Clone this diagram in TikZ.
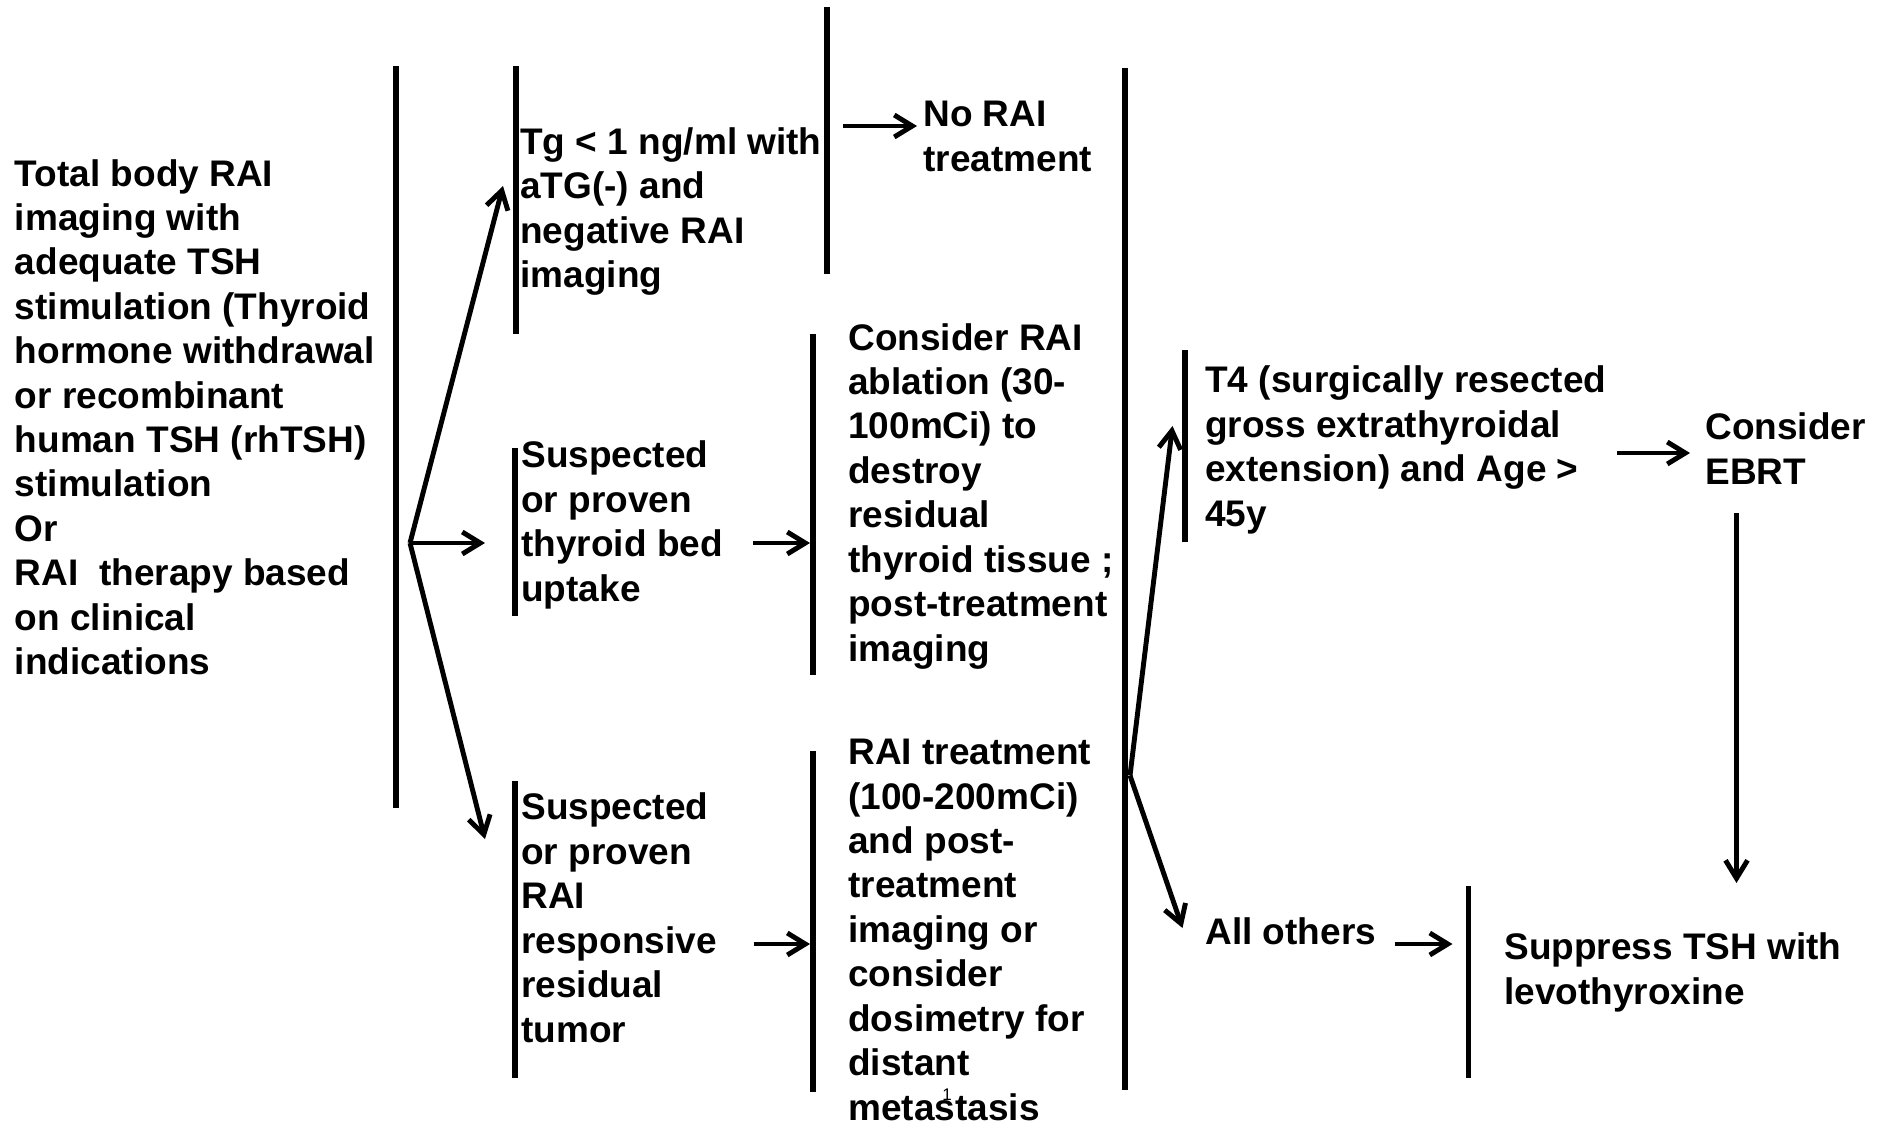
\documentclass[tikz,border=0pt]{standalone}
\usepackage{fontspec}
\setmainfont{Liberation Sans}
\usetikzlibrary{arrows.meta,positioning}
\tikzset{
    txt/.style={anchor=base west,align=left,inner sep=0pt,
        font=\fontsize{21.06}{25.27}\selectfont\bfseries},
    bar/.style={line width=3pt},
    arr/.style={-{Straight Barb[length=3.6mm,width=4.4mm]},line width=2.8pt},
    pgno/.style={anchor=base,inner sep=0pt,font=\fontsize{9.6}{11}\selectfont}
}
\begin{document}
\begin{tikzpicture}
    \useasboundingbox (0,0) rectangle (37.66,-22.48);

    % first column: imaging and the three findings (placed by last baseline)
    \node[txt] (init) at (0.29,-13.49) {Total body RAI\\imaging with\\adequate TSH\\stimulation (Thyroid\\hormone withdrawal\\or recombinant\\human TSH (rhTSH)\\stimulation\\Or\\RAI\ \ therapy based\\on clinical\\indications};
    \node[txt] (tg)    at (10.40,-5.75)  {Tg < 1 ng/ml with\\aTG(-) and\\negative RAI\\imaging};
    \node[txt] (bed)   at (10.42,-12.02) {Suspected\\or proven\\thyroid bed\\uptake};
    \node[txt] (tumor) at (10.42,-20.84) {Suspected\\or proven\\RAI\\responsive\\residual\\tumor};

    % second column: RAI decisions
    \node[txt] (norai)  at (18.46,-3.42)  {No RAI\\treatment};
    \node[txt] (ablate) at (16.96,-13.22) {Consider RAI\\ablation (30-\\100mCi) to\\destroy\\residual\\thyroid tissue ;\\post-treatment\\imaging};
    \node[txt] (raitx)  at (16.96,-22.40) {RAI treatment\\(100-200mCi)\\and post-\\treatment\\imaging or\\consider\\dosimetry for\\distant\\metastasis};
    \node[pgno] (page)  at (18.94,-22.00) {1};

    % third column: EBRT and TSH suppression
    \node[txt] (t4)     at (24.10,-10.52) {T4 (surgically resected\\gross extrathyroidal\\extension) and Age >\\45y};
    \node[txt] (ebrt)   at (34.10,-9.68)  {Consider\\EBRT};
    \node[txt] (others) at (24.10,-18.88) {All others};
    \node[txt] (tsh)    at (30.08,-20.08) {Suppress TSH with\\levothyroxine};

    % bars
    \draw[bar] (7.92,-1.32) -- (7.92,-16.16);
    \draw[bar] (10.32,-1.32) -- (10.32,-6.68);
    \draw[bar] (16.54,-0.14) -- (16.54,-5.48);
    \draw[bar] (10.30,-8.96) -- (10.30,-12.32);
    \draw[bar] (16.26,-6.68) -- (16.26,-13.50);
    \draw[bar] (10.30,-15.62) -- (10.30,-21.56);
    \draw[bar] (16.26,-15.02) -- (16.26,-21.84);
    \draw[bar] (22.50,-1.36) -- (22.50,-21.80);
    \draw[bar] (23.70,-7.00) -- (23.70,-10.84);
    \draw[bar] (29.37,-17.72) -- (29.37,-21.56);

    % arrow ends
    \coordinate (fork)   at (8.20,-10.86);
    \coordinate (tgin)   at (10.06,-3.72);
    \coordinate (bedin)  at (9.70,-10.86);
    \coordinate (tumin)  at (9.70,-16.78);
    \coordinate (nrout)  at (16.86,-2.52);
    \coordinate (nrin)   at (18.34,-2.52);
    \coordinate (bedout) at (15.06,-10.86);
    \coordinate (ablin)  at (16.20,-10.86);
    \coordinate (tumout) at (15.08,-18.88);
    \coordinate (raiin)  at (16.20,-18.88);
    \coordinate (fork2)  at (22.60,-15.51);
    \coordinate (t4in)   at (23.45,-8.52);
    \coordinate (othin)  at (23.65,-18.56);
    \coordinate (t4out)  at (32.34,-9.06);
    \coordinate (ebin)   at (33.80,-9.06);
    \coordinate (ebout)  at (34.73,-10.26);
    \coordinate (tshtop) at (34.73,-17.66);
    \coordinate (othout) at (27.90,-18.88);
    \coordinate (tshin)  at (29.05,-18.88);

    \draw[arr] (fork) -- (tgin);
    \draw[arr] (fork) -- (bedin);
    \draw[arr] (fork) -- (tumin);
    \draw[arr] (nrout) -- (nrin);
    \draw[arr] (bedout) -- (ablin);
    \draw[arr] (tumout) -- (raiin);
    \draw[arr] (fork2) -- (t4in);
    \draw[arr] (fork2) -- (othin);
    \draw[arr] (t4out) -- (ebin);
    \draw[arr] (ebout) -- (tshtop);
    \draw[arr] (othout) -- (tshin);
\end{tikzpicture}
\end{document}
